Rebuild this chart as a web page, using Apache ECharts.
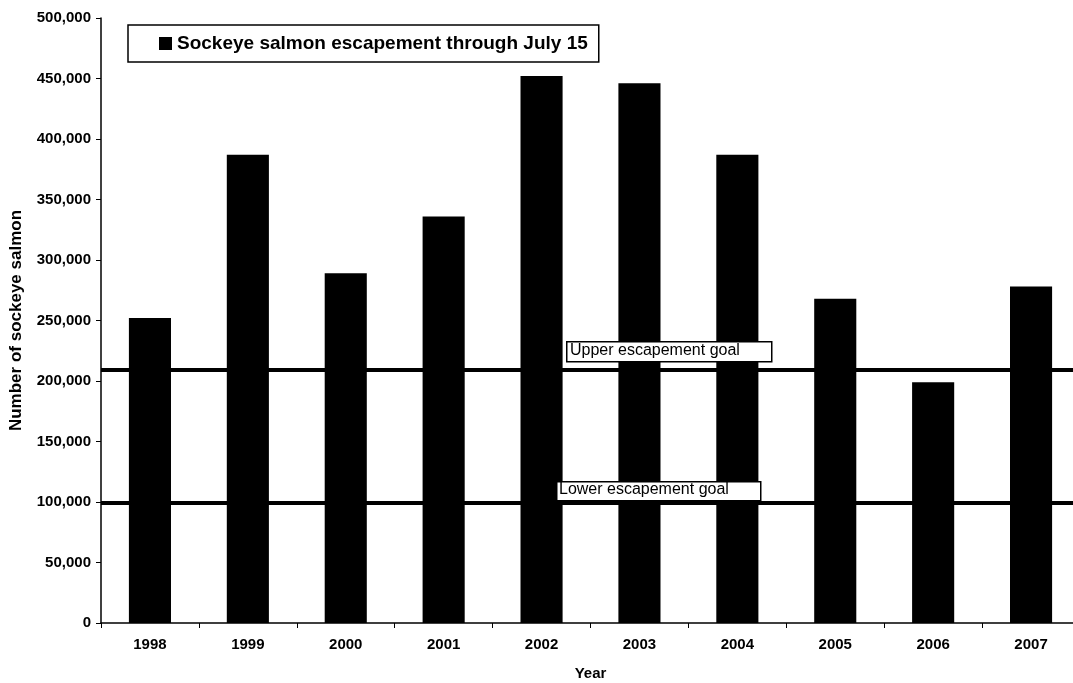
<!DOCTYPE html>
<html>
<head>
<meta charset="utf-8">
<script src="https://cdn.jsdelivr.net/npm/echarts@6/dist/echarts.min.js"></script>
<style>
html,body{margin:0;padding:0;background:#fff;}
#chart{width:1073px;height:683px;}
</style>
</head>
<body>
<div id="chart"></div>
<script>
const years = ['1998','1999','2000','2001','2002','2003','2004','2005','2006','2007'];
const escapement = [252000, 387000, 289000, 336000, 452000, 446000, 387000, 268000, 199000, 278000];
const upperGoal = 209000;
const lowerGoal = 99000;
const yTicks = {min: 0, max: 500000, interval: 50000};

const chart = echarts.init(document.getElementById('chart'));
const font = '"Liberation Sans", Arial, sans-serif';
chart.setOption({
  animation: false,
  backgroundColor: '#fff',
  grid: {left: 101, right: -7, top: 18, bottom: 60, containLabel: false, outerBoundsMode: 'none'},
  legend: {
    left: 128, top: 25,
    data: ['Sockeye salmon escapement through July 15'],
    icon: 'rect', itemWidth: 13, itemHeight: 13, itemGap: 4,
    borderColor: '#000', borderWidth: 1.5,
    padding: [9, 11, 9, 31],
    textStyle: {fontFamily: font, fontSize: 19, fontWeight: 'bold', color: '#000'}
  },
  xAxis: {
    type: 'category', data: years,
    name: 'Year', nameLocation: 'middle', nameGap: 43,
    nameTextStyle: {fontFamily: font, fontWeight: 'bold', fontSize: 15, color: '#000'},
    axisLine: {lineStyle: {color: '#000', width: 1.5}},
    axisTick: {show: true, alignWithLabel: false, length: 5, lineStyle: {color: '#000'}},
    axisLabel: {fontFamily: font, fontSize: 15, fontWeight: 'bold', color: '#000', margin: 14}
  },
  yAxis: {
    type: 'value', min: yTicks.min, max: yTicks.max, interval: yTicks.interval,
    name: 'Number of sockeye salmon', nameLocation: 'middle', nameGap: 76,
    nameTextStyle: {fontFamily: font, fontWeight: 'bold', fontSize: 17, color: '#000'},
    axisLine: {show: true, lineStyle: {color: '#000', width: 1.5}},
    axisTick: {show: true, length: 5, lineStyle: {color: '#000'}},
    splitLine: {show: false},
    axisLabel: {fontFamily: font, fontSize: 15, fontWeight: 'bold', color: '#000', margin: 10,
      formatter: v => v.toLocaleString('en-US')}
  },
  series: [{
    name: 'Sockeye salmon escapement through July 15',
    type: 'bar', data: escapement, barWidth: '43%',
    itemStyle: {color: '#000'},
    markLine: {
      silent: true, symbol: 'none',
      lineStyle: {color: '#000', width: 4, type: 'solid'},
      label: {show: false},
      data: [{yAxis: upperGoal}, {yAxis: lowerGoal}]
    }
  }],
  graphic: [
    {type: 'rect', left: 566, top: 341, shape: {width: 205, height: 20}, style: {fill: '#fff', stroke: '#000', lineWidth: 1.5}, z: 100},
    {type: 'text', left: 570, top: 343, style: {text: 'Upper escapement goal', font: '16px "Liberation Sans", Arial, sans-serif', fill: '#000'}, z: 101},
    {type: 'rect', left: 556, top: 481, shape: {width: 204, height: 19}, style: {fill: '#fff', stroke: '#000', lineWidth: 1.5}, z: 100},
    {type: 'text', left: 559, top: 482, style: {text: 'Lower escapement goal', font: '16px "Liberation Sans", Arial, sans-serif', fill: '#000'}, z: 101}
  ]
});
</script>
</body>
</html>
